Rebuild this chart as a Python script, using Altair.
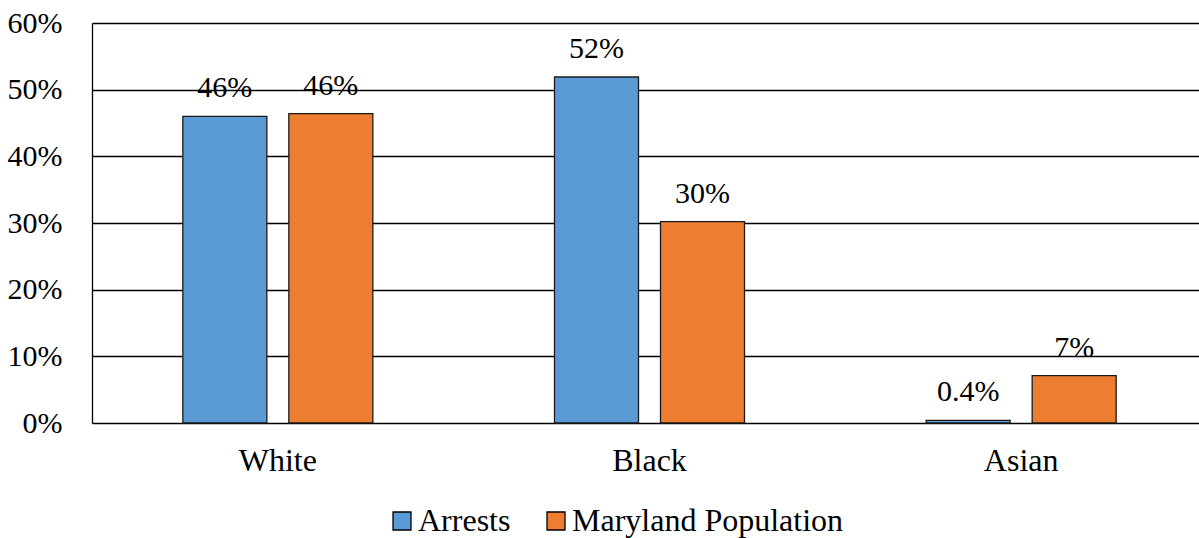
import altair as alt
import pandas as pd

# Share of arrests vs. share of state population, by race
races = ["White", "Black", "Asian"]
arrests = [0.46, 0.519, 0.004]
population = [0.464, 0.302, 0.071]
series = ["Arrests", "Maryland Population"]
colors = ["#5B9BD5", "#ED7D31"]
y_ticks = [0.0, 0.1, 0.2, 0.3, 0.4, 0.5, 0.6]

rows = []
for race, a, p in zip(races, arrests, population):
    rows.append({"race": race, "series": series[0], "value": a})
    rows.append({"race": race, "series": series[1], "value": p})
df = pd.DataFrame(rows)

FONT = "Liberation Serif"
FS = 30
FS_CAT = 32

x_enc = alt.X(
    "race:N",
    sort=races,
    title=None,
    scale=alt.Scale(range=[0, 1115], paddingInner=0, paddingOuter=0),
    axis=alt.Axis(labelAngle=0, domain=False, ticks=False, labelPadding=22,
                  labelFont=FONT, labelFontSize=FS_CAT, labelColor="black"),
)
xo_enc = alt.XOffset(
    "series:N",
    sort=series,
    scale=alt.Scale(paddingInner=0.2075, paddingOuter=0.857),
)
y_enc = alt.Y(
    "value:Q",
    title=None,
    scale=alt.Scale(domain=[0, 0.6], nice=False),
    axis=alt.Axis(values=y_ticks, format=".0%", grid=True, gridColor="black",
                  gridWidth=1.3, domainColor="black", domainWidth=1.3,
                  ticks=False, labelPadding=30, labelFont=FONT,
                  labelFontSize=FS, labelColor="black"),
)

bars = alt.Chart(df).mark_bar(stroke="#1a1a1a", strokeWidth=1.3).encode(
    x=x_enc,
    xOffset=xo_enc,
    y=y_enc,
    color=alt.Color(
        "series:N",
        sort=series,
        scale=alt.Scale(domain=series, range=colors),
        legend=alt.Legend(
            orient="none", legendX=294, legendY=482, direction="horizontal",
            title=None, symbolType="square", symbolSize=324,
            symbolStrokeColor="black", symbolStrokeWidth=1.3,
            labelFont=FONT, labelFontSize=FS_CAT, labelColor="black",
            labelOffset=0, columnPadding=29, labelLimit=600,
        ),
    ),
)

labels = alt.Chart(df).transform_calculate(
    label="datum.value < 0.01 ? format(datum.value, '.1%') : format(datum.value, '.0%')"
).mark_text(dy=-19, baseline="alphabetic", font=FONT, fontSize=FS, color="black").encode(
    x=alt.X("race:N", sort=races),
    xOffset=alt.XOffset("series:N", sort=series),
    y="value:Q",
    text="label:N",
)

chart = (
    alt.layer(bars, labels)
    .properties(width=1107, height=400,
                autosize=alt.AutoSizeParams(type="none"),
                padding={"left": 92, "top": 23, "right": 0, "bottom": 115})
    .configure_view(stroke=None)
    .configure(background="white")
)

chart.save("out.html", embed_options={"renderer": "svg", "actions": False})
